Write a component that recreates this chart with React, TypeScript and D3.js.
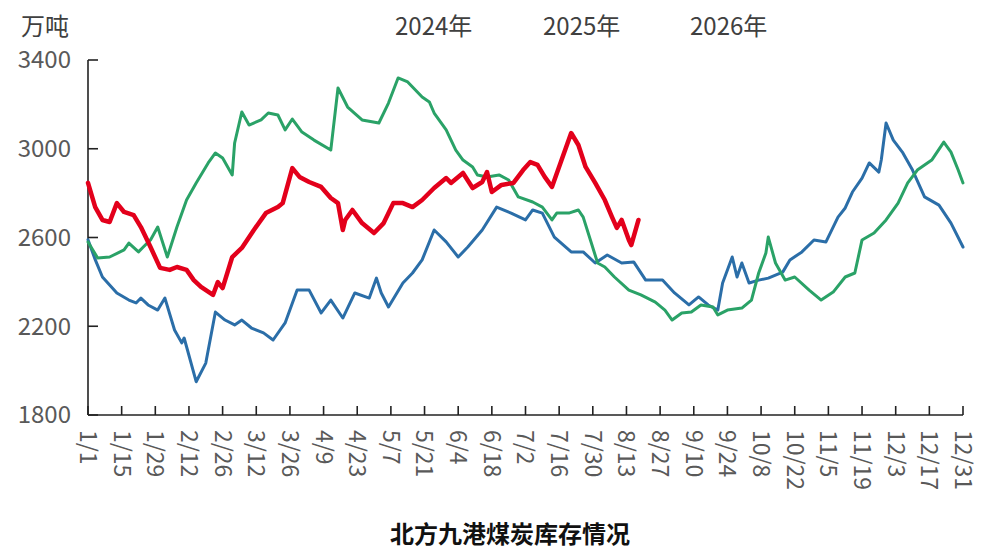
import * as d3 from 'd3';

// day of year (0 = 1/1) and stock in 万吨
const DAYS_2024 = [0, 3, 6, 12, 17, 20, 22, 25, 29, 32, 36, 39, 40, 45, 49, 53, 57, 61, 64, 68, 73, 77, 82, 87, 92, 97, 101, 106, 111, 117, 120, 122, 125, 131, 135, 139, 144, 149, 154, 158, 164, 170, 176, 182, 185, 189, 194, 201, 206, 211, 216, 222, 227, 232, 239, 244, 250, 254, 258, 262, 264, 268, 270, 272, 275, 279, 283, 289, 292, 297, 302, 307, 312, 315, 318, 322, 325, 329, 330, 332, 335, 339, 343, 348, 354, 359, 364];
const VALUES_2024 = [2590, 2500, 2422, 2350, 2318, 2305, 2327, 2296, 2273, 2327, 2183, 2125, 2147, 1950, 2034, 2264, 2228, 2206, 2228, 2192, 2170, 2138, 2215, 2363, 2363, 2260, 2318, 2237, 2350, 2327, 2417, 2350, 2287, 2395, 2440, 2499, 2634, 2580, 2512, 2557, 2634, 2737, 2710, 2679, 2724, 2710, 2602, 2535, 2535, 2485, 2521, 2485, 2490, 2408, 2408, 2350, 2296, 2332, 2296, 2273, 2395, 2512, 2422, 2485, 2395, 2408, 2417, 2444, 2499, 2535, 2589, 2580, 2692, 2733, 2805, 2868, 2936, 2895, 2949, 3116, 3039, 2981, 2904, 2783, 2746, 2665, 2557];

const DAYS_2025 = [0, 4, 9, 15, 17, 21, 23, 26, 29, 33, 37, 41, 45, 50, 53, 56, 60, 61, 64, 67, 72, 75, 79, 82, 85, 89, 94, 101, 104, 108, 114, 121, 125, 129, 133, 139, 142, 144, 149, 153, 156, 160, 162, 166, 171, 175, 179, 185, 189, 193, 195, 200, 204, 206, 209, 212, 215, 219, 225, 230, 236, 240, 243, 247, 251, 255, 260, 262, 266, 272, 276, 279, 282, 283, 286, 290, 294, 300, 305, 310, 315, 319, 322, 327, 332, 337, 341, 345, 351, 356, 359, 362, 364];
const VALUES_2025 = [2580, 2508, 2512, 2544, 2575, 2535, 2557, 2589, 2647, 2512, 2647, 2769, 2846, 2936, 2981, 2958, 2882, 3026, 3166, 3107, 3130, 3161, 3152, 3085, 3134, 3075, 3039, 2994, 3274, 3188, 3130, 3116, 3206, 3319, 3301, 3233, 3211, 3161, 3085, 2994, 2949, 2918, 2882, 2873, 2882, 2859, 2783, 2760, 2737, 2679, 2710, 2710, 2724, 2692, 2589, 2485, 2467, 2422, 2363, 2341, 2309, 2273, 2228, 2260, 2264, 2296, 2287, 2251, 2273, 2282, 2318, 2440, 2530, 2602, 2485, 2408, 2422, 2363, 2318, 2354, 2422, 2440, 2589, 2620, 2679, 2755, 2846, 2904, 2949, 3030, 2985, 2904, 2846];

const DAYS_2026 = [0, 3, 6, 9, 12, 15, 19, 22, 26, 30, 34, 37, 41, 44, 47, 52, 54, 56, 60, 64, 69, 74, 79, 81, 85, 88, 92, 97, 101, 104, 106, 107, 110, 114, 119, 123, 127, 131, 135, 139, 144, 149, 151, 156, 160, 164, 166, 168, 172, 177, 181, 184, 187, 190, 193, 197, 201, 204, 207, 211, 215, 218, 220, 222, 225, 226, 229];
const VALUES_2026 = [2846, 2737, 2679, 2670, 2755, 2715, 2701, 2647, 2557, 2463, 2454, 2467, 2454, 2408, 2377, 2341, 2399, 2372, 2512, 2553, 2634, 2710, 2737, 2755, 2913, 2873, 2850, 2828, 2778, 2755, 2634, 2679, 2724, 2665, 2620, 2665, 2755, 2755, 2737, 2769, 2823, 2868, 2846, 2891, 2823, 2850, 2895, 2805, 2837, 2846, 2904, 2940, 2927, 2873, 2828, 2949, 3071, 3017, 2918, 2846, 2769, 2692, 2643, 2679, 2589, 2566, 2679];

const SERIES_NAMES = ['2024年', '2025年', '2026年'];
const Y_TICKS = [1800, 2200, 2600, 3000, 3400];
const X_TICK_DAYS = [...d3.range(0, 364, 14), 364];

const COLORS = ['#2b6ea8', '#2aa267', '#e3001b'];
const WIDTHS = [3, 3, 4.5];

const FONT = '"Noto Sans CJK SC", "Noto Sans", sans-serif';

export default function App() {
  const width = 988;
  const height = 557;
  const margin = { left: 88, right: 25, top: 60, bottom: 142 };

  const x = d3.scaleLinear().domain([0, 364]).range([margin.left, width - margin.right]);
  const y = d3.scaleLinear().domain([1800, 3400]).range([height - margin.bottom, margin.top]);

  const base = new Date(2025, 0, 1);
  const fmt = d3.timeFormat('%-m/%-d');

  const line = d3
    .line<[number, number]>()
    .x((d) => x(d[0]))
    .y((d) => y(d[1]));

  const series = [
    d3.zip(DAYS_2024, VALUES_2024) as [number, number][],
    d3.zip(DAYS_2025, VALUES_2025) as [number, number][],
    d3.zip(DAYS_2026, VALUES_2026) as [number, number][],
  ];

  const legendX = [395, 543, 690];
  const y0 = y(1800);

  return (
    <div style={{ position: 'fixed', left: 0, top: 0 }}>
      <svg width={width} height={height} style={{ display: 'block', background: '#fff' }} fontFamily={FONT}>
        <text x={21} y={35} fontSize={24} fill="#404040">万吨</text>

        {SERIES_NAMES.map((name, i) => (
          <text key={name} x={legendX[i]} y={35} fontSize={24} fill="#404040">
            {name}
          </text>
        ))}

        {/* y axis */}
        <line x1={x(0)} x2={x(0)} y1={y(3400)} y2={y0} stroke="#222" strokeWidth={1.6} />
        {Y_TICKS.map((t) => (
          <g key={t}>
            <line x1={x(0)} x2={x(0) + 10} y1={y(t)} y2={y(t)} stroke="#222" strokeWidth={1.6} />
            <text x={71} y={y(t)} dy="0.35em" textAnchor="end" fontSize={24} fill="#595959">
              {t}
            </text>
          </g>
        ))}

        {/* x axis */}
        <line x1={x(0)} x2={x(364)} y1={y0} y2={y0} stroke="#222" strokeWidth={1.6} />
        {X_TICK_DAYS.map((d) => (
          <g key={d}>
            <line x1={x(d)} x2={x(d)} y1={y0} y2={y0 - 9} stroke="#222" strokeWidth={1.6} />
            <text
              transform={`translate(${x(d)},${y0 + 15}) rotate(90)`}
              dy="0.35em"
              fontSize={23}
              fill="#595959"
            >
              {fmt(d3.timeDay.offset(base, d))}
            </text>
          </g>
        ))}

        {series.map((s, i) => (
          <path
            key={i}
            d={line(s) ?? ''}
            fill="none"
            stroke={COLORS[i]}
            strokeWidth={WIDTHS[i]}
            strokeLinejoin="round"
            strokeLinecap="round"
          />
        ))}

        <text x={510} y={543} textAnchor="middle" fontSize={24} fontWeight="bold" fill="#111">
          北方九港煤炭库存情况
        </text>
      </svg>
    </div>
  );
}
